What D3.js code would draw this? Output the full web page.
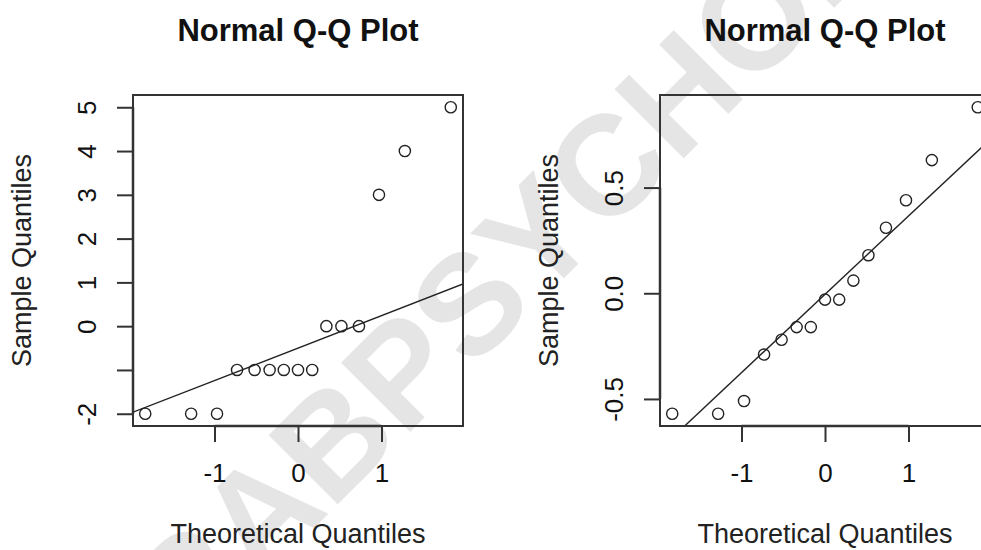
<!DOCTYPE html>
<html>
<head>
<meta charset="utf-8">
<script src="https://cdn.jsdelivr.net/npm/d3@7"></script>
<style>
  body { margin: 0; background: #fff; }
  svg { display: block; font-family: "Liberation Sans", Arial, sans-serif; }
</style>
</head>
<body>
<svg id="grafico" width="981" height="550"></svg>
<script>
// Dados
const theoretical = [-1.83, -1.28, -0.97, -0.73, -0.52, -0.34, -0.17, 0, 0.17, 0.34, 0.52, 0.73, 0.97, 1.28, 1.83];
const sampleA = [-2, -2, -2, -1, -1, -1, -1, -1, -1, 0, 0, 0, 3, 4, 5];
const sampleB = [-0.57, -0.57, -0.51, -0.29, -0.22, -0.16, -0.16, -0.03, -0.03, 0.06, 0.18, 0.31, 0.44, 0.63, 0.88];
const xTicks = [-1, 0, 1];
const xLabels = ["-1", "0", "1"];
const yTicksA = [-2, -1, 0, 1, 2, 3, 4, 5];
const yLabelsA = ["-2", "", "0", "1", "2", "3", "4", "5"];
const yTicksB = [-0.5, 0, 0.5];
const yLabelsB = ["-0.5", "0.0", "0.5"];
const quartileZ = 0.6745; // quantil teorico de 0.75
const mainTitle = "Normal Q-Q Plot";
const xTitle = "Theoretical Quantiles";
const yTitle = "Sample Quantiles";
const watermark = "RABPSYCHOLOGY";

let svg = d3.select("#grafico");

// Marca d'agua por baixo de tudo
svg.append("text")
  .attr("transform", "translate(186,656) rotate(-45)")
  .attr("font-size", 142)
  .attr("font-weight", "bold")
  .attr("fill", "#e5e5e5")
  .text(watermark);

// extensao de 4% como no R
function pad(ext) {
  let d = (ext[1] - ext[0]) * 0.04;
  return [ext[0] - d, ext[1] + d];
}

function estilo(sel) {
  sel.selectAll(".tick line").attr("stroke", "#333").attr("stroke-width", 2);
  sel.selectAll("text").attr("font-size", 26).attr("fill", "#111")
    .attr("font-family", "Liberation Sans, Arial, sans-serif");
}

function qqplot(parametros) {
  let left = parametros.left, top = 95, w = 330, h = 331;
  let g = svg.append("g").attr("transform", `translate(${left},${top})`);

  let fnX = d3.scaleLinear().domain(pad(d3.extent(theoretical))).range([0, w]);
  let fnY = d3.scaleLinear().domain(pad(d3.extent(parametros.dados))).range([h, 0]);

  let clipId = "clip" + parametros.id;
  g.append("clipPath").attr("id", clipId)
    .append("rect").attr("width", w).attr("height", h);

  // linha do qqline pelos quartis
  let sorted = parametros.dados.slice().sort(d3.ascending);
  let q1 = d3.quantile(sorted, 0.25), q3 = d3.quantile(sorted, 0.75);
  let slope = (q3 - q1) / (2 * quartileZ);
  let inter = q1 + slope * quartileZ;
  let xd = fnX.domain();
  g.append("line")
    .attr("clip-path", `url(#${clipId})`)
    .attr("x1", fnX(xd[0])).attr("y1", fnY(inter + slope * xd[0]))
    .attr("x2", fnX(xd[1])).attr("y2", fnY(inter + slope * xd[1]))
    .attr("stroke", "#222").attr("stroke-width", 1.4);

  // pontos
  g.selectAll(".ponto")
    .data(parametros.dados)
    .enter()
    .append("circle")
    .classed("ponto", true)
    .attr("cx", (d, i) => fnX(theoretical[i]))
    .attr("cy", (d) => fnY(d))
    .attr("r", 5.6)
    .attr("fill", "none")
    .attr("stroke", "#222")
    .attr("stroke-width", 1.4);

  // caixa
  g.append("rect")
    .attr("width", w).attr("height", h)
    .attr("fill", "none").attr("stroke", "#333").attr("stroke-width", 2);

  // eixo x (linha so entre o primeiro e o ultimo tick, como no R)
  let ax = d3.axisBottom(fnX).tickValues(xTicks).tickSize(16).tickSizeOuter(0).tickPadding(22)
    .tickFormat((d, i) => xLabels[i]);
  let gx = g.append("g").attr("transform", `translate(0,${h})`).call(ax);
  gx.select(".domain").remove();
  gx.append("line")
    .attr("x1", fnX(xTicks[0])).attr("x2", fnX(xTicks[xTicks.length - 1]))
    .attr("stroke", "#333").attr("stroke-width", 2.5);
  estilo(gx);

  // eixo y com rotulos girados
  let yt = parametros.yTicks;
  let ay = d3.axisLeft(fnY).tickValues(yt).tickSize(16).tickSizeOuter(0)
    .tickFormat((d, i) => parametros.yLabels[i]);
  let gy = g.append("g").call(ay);
  gy.select(".domain").remove();
  gy.append("line")
    .attr("y1", fnY(yt[0])).attr("y2", fnY(yt[yt.length - 1]))
    .attr("stroke", "#333").attr("stroke-width", 2.5);
  estilo(gy);
  gy.selectAll("text")
    .attr("x", null).attr("dy", null)
    .attr("transform", "translate(-37,0) rotate(-90)")
    .attr("text-anchor", "middle");

  // titulos
  g.append("text")
    .attr("x", w / 2).attr("y", -54)
    .attr("text-anchor", "middle")
    .attr("font-size", 31).attr("font-weight", "bold").attr("fill", "#111")
    .text(mainTitle);
  g.append("text")
    .attr("x", w / 2).attr("y", h + 117)
    .attr("text-anchor", "middle")
    .attr("font-size", 27).attr("fill", "#222")
    .text(xTitle);
  g.append("text")
    .attr("transform", `translate(-102,${h / 2}) rotate(-90)`)
    .attr("text-anchor", "middle")
    .attr("font-size", 27).attr("fill", "#222")
    .text(yTitle);
}

qqplot({ id: "A", left: 133, dados: sampleA, yTicks: yTicksA, yLabels: yLabelsA });
qqplot({ id: "B", left: 660, dados: sampleB, yTicks: yTicksB, yLabels: yLabelsB });
</script>
</body>
</html>
